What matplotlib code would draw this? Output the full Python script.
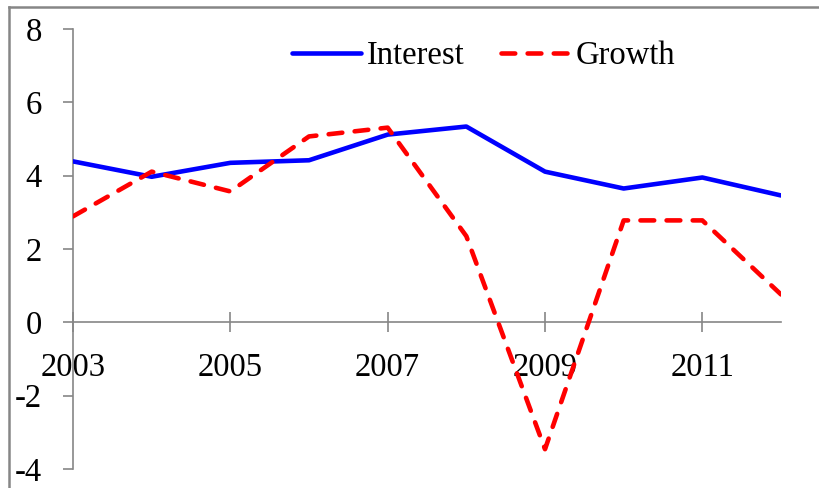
import matplotlib
matplotlib.use("Agg")
import matplotlib.pyplot as plt
from matplotlib.lines import Line2D

plt.rcParams['font.family'] = ['Liberation Serif', 'DejaVu Serif']
plt.rcParams['axes.unicode_minus'] = False

years = [2003, 2004, 2005, 2006, 2007, 2008, 2009, 2010, 2011, 2012]
interest = [4.39, 3.97, 4.35, 4.42, 5.12, 5.34, 4.11, 3.65, 3.95, 3.46]
growth = [2.89, 4.11, 3.57, 5.07, 5.31, 2.35, -3.46, 2.78, 2.78, 0.76]
xticks = [2003, 2005, 2007, 2009, 2011]
yticks = [-4, -2, 0, 2, 4, 6, 8]

grey = '#868686'

fig = plt.figure(figsize=(8.2, 4.88), dpi=100)
ax = fig.add_axes([73/820, 1 - 469/488, (781 - 73)/820, (469 - 29)/488])

ax.plot(years, interest, color='#0000FF', lw=3.3, solid_capstyle='round',
        label='Interest', zorder=3)
ax.plot(years, growth, color='#FF0000', lw=3.3, dash_capstyle='round',
        dashes=(3.0, 2.7), label='Growth', zorder=3)

ax.set_xlim(2003, 2012)
ax.set_ylim(-4, 8)
ax.set_xticks(xticks)
ax.set_yticks(yticks)
ax.set_xticklabels([str(x) for x in xticks])
ax.set_yticklabels([str(y) for y in yticks])

# axes cross at zero like the spreadsheet chart
ax.spines['bottom'].set_position(('data', 0))
ax.spines['left'].set_position(('data', 2003))
ax.spines['top'].set_visible(False)
ax.spines['right'].set_visible(False)
for s in ['bottom', 'left']:
    ax.spines[s].set_color(grey)
    ax.spines[s].set_linewidth(1.2)

ax.tick_params(axis='y', direction='out', length=7.5, width=1.2, color=grey,
               labelsize=23.5, pad=15)
ax.tick_params(axis='x', direction='inout', length=15, width=1.2, color=grey,
               labelsize=23.5, pad=14)

ax.legend(loc='center', bbox_to_anchor=(484/820, 1 - 56/488),
          bbox_transform=fig.transFigure, ncol=2, frameon=False,
          fontsize=23.5, handlelength=2.1, handletextpad=0.2,
          columnspacing=1.1)

# outer chart border (only top and left edges show)
fig.add_artist(Line2D([9/820, 1.0], [1 - 7/488, 1 - 7/488], color=grey,
                      lw=1.8, transform=fig.transFigure))
fig.add_artist(Line2D([9/820, 9/820], [0.0, 1 - 7/488], color=grey,
                      lw=1.8, transform=fig.transFigure))

fig.savefig('out.png', dpi=100)
